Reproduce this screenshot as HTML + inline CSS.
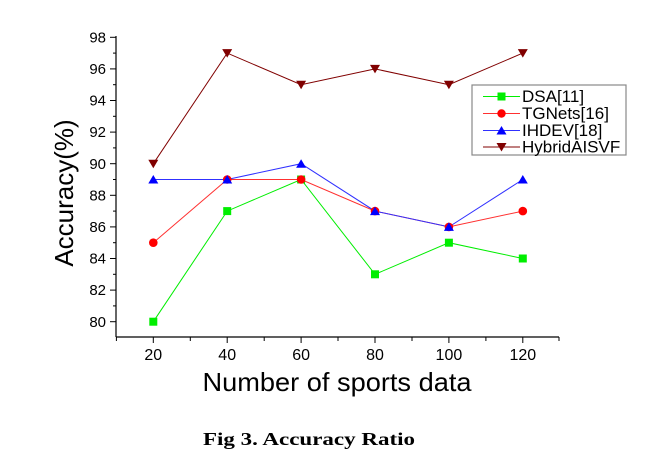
<!DOCTYPE html>
<html><head><meta charset="utf-8"><style>body{margin:0;background:#fff}svg{display:block}</style></head>
<body>
<svg width="650" height="460" xmlns="http://www.w3.org/2000/svg" font-family="Liberation Sans, Arial, sans-serif">
<rect width="650" height="460" fill="#fff"/>
<g stroke="#000" stroke-width="1.2" fill="none">
<line x1="116" y1="36" x2="116" y2="337"/>
<line x1="116" y1="337" x2="559" y2="337"/>
</g>
<g stroke="#000" stroke-width="1">
<line x1="110" y1="37.3" x2="116" y2="37.3"/><line x1="110" y1="68.9" x2="116" y2="68.9"/><line x1="110" y1="100.5" x2="116" y2="100.5"/><line x1="110" y1="132.1" x2="116" y2="132.1"/><line x1="110" y1="163.7" x2="116" y2="163.7"/><line x1="110" y1="195.3" x2="116" y2="195.3"/><line x1="110" y1="226.9" x2="116" y2="226.9"/><line x1="110" y1="258.5" x2="116" y2="258.5"/><line x1="110" y1="290.1" x2="116" y2="290.1"/><line x1="110" y1="321.7" x2="116" y2="321.7"/>
<line x1="113" y1="53.1" x2="116" y2="53.1"/><line x1="113" y1="84.7" x2="116" y2="84.7"/><line x1="113" y1="116.3" x2="116" y2="116.3"/><line x1="113" y1="147.9" x2="116" y2="147.9"/><line x1="113" y1="179.5" x2="116" y2="179.5"/><line x1="113" y1="211.1" x2="116" y2="211.1"/><line x1="113" y1="242.7" x2="116" y2="242.7"/><line x1="113" y1="274.3" x2="116" y2="274.3"/><line x1="113" y1="305.9" x2="116" y2="305.9"/>
<line x1="153.3" y1="337" x2="153.3" y2="343"/><line x1="227.2" y1="337" x2="227.2" y2="343"/><line x1="301.1" y1="337" x2="301.1" y2="343"/><line x1="375" y1="337" x2="375" y2="343"/><line x1="448.9" y1="337" x2="448.9" y2="343"/><line x1="522.8" y1="337" x2="522.8" y2="343"/>
<line x1="116.4" y1="337" x2="116.4" y2="341"/><line x1="190.3" y1="337" x2="190.3" y2="341"/><line x1="264.2" y1="337" x2="264.2" y2="341"/><line x1="338" y1="337" x2="338" y2="341"/><line x1="412" y1="337" x2="412" y2="341"/><line x1="485.9" y1="337" x2="485.9" y2="341"/><line x1="559" y1="337" x2="559" y2="341"/>
</g>
<g font-size="15" text-anchor="end" fill="#000">
<text x="106" y="42.5">98</text><text x="106" y="74">96</text><text x="106" y="105.5">94</text><text x="106" y="137">92</text><text x="106" y="169">90</text><text x="106" y="200.5">88</text><text x="106" y="232">86</text><text x="106" y="263.5">84</text><text x="106" y="295">82</text><text x="106" y="327">80</text>
</g>
<g font-size="16" text-anchor="middle" fill="#000">
<text x="153.3" y="360">20</text><text x="227.2" y="360">40</text><text x="301.1" y="360">60</text><text x="375" y="360">80</text><text x="448.9" y="360">100</text><text x="522.8" y="360">120</text>
</g>
<text x="0" y="0" transform="translate(73,193) rotate(-90)" font-size="26" text-anchor="middle">Accuracy(%)</text>
<text x="337" y="391" font-size="26" text-anchor="middle" textLength="269" lengthAdjust="spacingAndGlyphs">Number of sports data</text>
<text x="203" y="445" font-size="18" font-weight="bold" font-family="Liberation Serif, serif" textLength="212" lengthAdjust="spacingAndGlyphs">Fig 3. Accuracy Ratio</text>
<polyline fill="none" stroke="#00ee00" stroke-width="1" points="153.3,321.7 227.2,211.1 301.1,179.5 375,274.3 448.9,242.7 522.8,258.5"/>
<polyline fill="none" stroke="#ff3030" stroke-width="1" points="153.3,242.7 227.2,179.5 301.1,179.5 375,211.1 448.9,226.9 522.8,211.1"/>
<polyline fill="none" stroke="#3030ff" stroke-width="1" points="153.3,179.5 227.2,179.5 301.1,163.7 375,211.1 448.9,226.9 522.8,179.5"/>
<polyline fill="none" stroke="#800000" stroke-width="1" points="153.3,163.7 227.2,53.1 301.1,84.7 375,68.9 448.9,84.7 522.8,53.1"/>
<g fill="#00ee00">
<rect x="149.3" y="317.7" width="8" height="8"/><rect x="223.2" y="207.1" width="8" height="8"/><rect x="297.1" y="175.5" width="8" height="8"/><rect x="371" y="270.3" width="8" height="8"/><rect x="444.9" y="238.7" width="8" height="8"/><rect x="518.8" y="254.5" width="8" height="8"/>
</g>
<g fill="#ff0000">
<circle cx="153.3" cy="242.7" r="4.3"/><circle cx="227.2" cy="179.5" r="4.3"/><circle cx="301.1" cy="179.5" r="4.3"/><circle cx="375" cy="211.1" r="4.3"/><circle cx="448.9" cy="226.9" r="4.3"/><circle cx="522.8" cy="211.1" r="4.3"/>
</g>
<g fill="#0000ff">
<path d="M153.3,175 l5,8.5 h-10z"/><path d="M227.2,175 l5,8.5 h-10z"/><path d="M301.1,159.2 l5,8.5 h-10z"/><path d="M375,206.6 l5,8.5 h-10z"/><path d="M448.9,222.4 l5,8.5 h-10z"/><path d="M522.8,175 l5,8.5 h-10z"/>
</g>
<g fill="#800000">
<path d="M153.3,168.2 l5,-8.5 h-10z"/><path d="M227.2,57.6 l5,-8.5 h-10z"/><path d="M301.1,89.2 l5,-8.5 h-10z"/><path d="M375,73.4 l5,-8.5 h-10z"/><path d="M448.9,89.2 l5,-8.5 h-10z"/><path d="M522.8,57.6 l5,-8.5 h-10z"/>
</g>
<rect x="472" y="85" width="154" height="70" fill="#fff" stroke="#888" stroke-width="1.2"/>
<line x1="483" y1="96.5" x2="520" y2="96.5" stroke="#00ee00"/><rect x="497.5" y="92.5" width="8" height="8" fill="#00ee00"/>
<line x1="483" y1="113.5" x2="520" y2="113.5" stroke="#ff3030"/><circle cx="501.5" cy="113.5" r="4.2" fill="#f00"/>
<line x1="483" y1="130.5" x2="520" y2="130.5" stroke="#3030ff"/><path d="M501.5,126 l5,8.5 h-10z" fill="#00f"/>
<line x1="483" y1="147" x2="520" y2="147" stroke="#800000"/><path d="M501.5,151.5 l5,-8.5 h-10z" fill="#800000"/>
<g font-size="17" fill="#000">
<text x="522" y="102">DSA[11]</text><text x="522" y="119">TGNets[16]</text><text x="522" y="136">IHDEV[18]</text><text x="522" y="152.5">HybridAISVF</text>
</g>
</svg>
</body></html>
